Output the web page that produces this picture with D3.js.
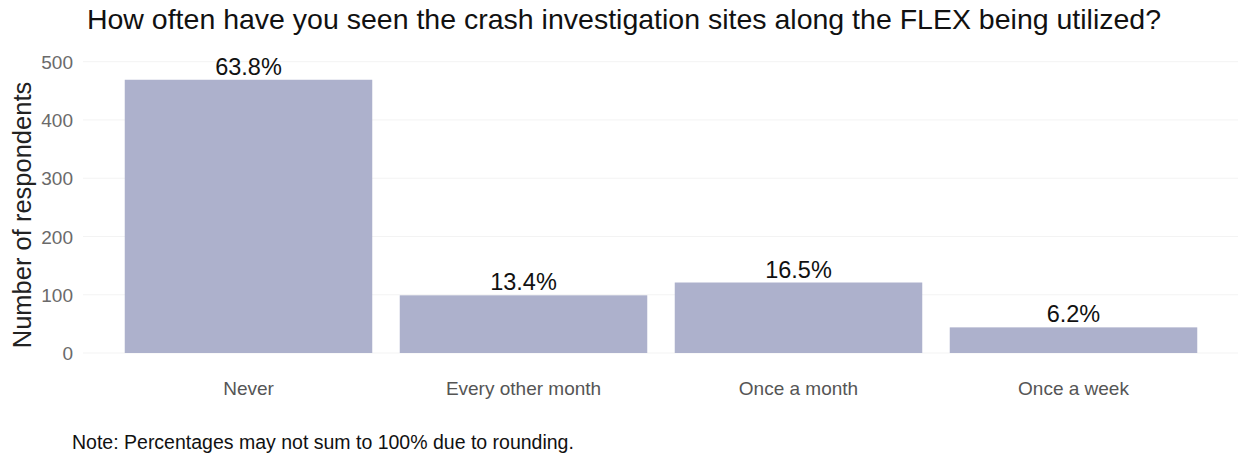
<!DOCTYPE html>
<html><head><meta charset="utf-8">
<script src="https://cdn.jsdelivr.net/npm/d3@7"></script>
<style>body{margin:0;background:#fff;font-family:"Liberation Sans",Arial,sans-serif;}</style>
</head><body><svg id="c" width="1246" height="458"></svg>
<script>
const categories = ["Never","Every other month","Once a month","Once a week"];
const counts = [469, 99, 121, 44];
const pctLabels = ["63.8%","13.4%","16.5%","6.2%"];
const yTicks = [0,100,200,300,400,500];

const svg = d3.select("#c");
const FONT = "Liberation Sans, Arial, sans-serif";
const x = d3.scaleBand().domain(categories).range([111, 1211]).paddingInner(0.1).paddingOuter(0.05);
const y = d3.scaleLinear().domain([0,500]).range([353, 61.7]);

// faint grid
svg.append("g").selectAll("line").data(yTicks).join("line")
  .attr("x1", 83).attr("x2", 1238).attr("y1", d=>y(d)).attr("y2", d=>y(d))
  .attr("stroke", "#f3f3f3").attr("stroke-width", 1);

svg.append("g").selectAll("rect").data(categories).join("rect")
  .attr("x", d=>x(d)).attr("width", x.bandwidth())
  .attr("y", (d,i)=>y(counts[i])).attr("height", (d,i)=>y(0)-y(counts[i]))
  .attr("fill", "#adb1cc");

svg.append("g").selectAll("text").data(categories).join("text")
  .attr("x", d=>x(d)+x.bandwidth()/2).attr("y", (d,i)=>y(counts[i])-5)
  .attr("text-anchor","middle").attr("font-size", 23.5).attr("fill","#111")
  .text((d,i)=>pctLabels[i]);

const ya = d3.axisLeft(y).tickValues(yTicks).tickSize(0).tickPadding(10);
const gy = svg.append("g").attr("transform","translate(83,0)").call(ya);
gy.select(".domain").remove();
gy.selectAll("text").attr("font-size",19).attr("fill","#6a6a6a").attr("font-family",FONT).attr("dy","0.35em");

const xa = d3.axisBottom(x).tickSize(0).tickPadding(0);
const gx = svg.append("g").attr("transform","translate(0,381)").call(xa);
gx.select(".domain").remove();
gx.selectAll("text").attr("font-size",19).attr("fill","#555").attr("font-family",FONT);

svg.append("text").attr("x", 624).attr("y", 29).attr("text-anchor","middle")
  .attr("font-size", 28.5).attr("fill","#111")
  .text("How often have you seen the crash investigation sites along the FLEX being utilized?");

svg.append("text").attr("transform","translate(31,215) rotate(-90)").attr("text-anchor","middle")
  .attr("font-size", 25.5).attr("fill","#222").text("Number of respondents");

svg.append("text").attr("x", 72).attr("y", 449).attr("font-size", 19.5).attr("fill","#111")
  .text("Note: Percentages may not sum to 100% due to rounding.");
</script></body></html>
